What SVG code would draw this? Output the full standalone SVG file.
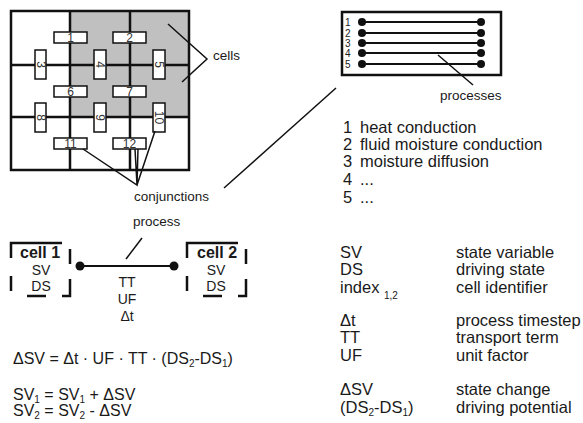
<svg xmlns="http://www.w3.org/2000/svg" width="583" height="423" viewBox="0 0 583 423">
<style>
text{font-family:"Liberation Sans",Arial,sans-serif;fill:#1a1a1a}
.num{font-size:12px;fill:#333;text-anchor:middle;dominant-baseline:central}
.lbl{font-size:13.5px}
.body{font-size:16.5px}
.frm{font-size:16px}
.sm{font-size:14px;text-anchor:middle}
.bold{font-size:16px;font-weight:bold}
.sub{font-size:10px}
.pn{font-size:10px}
.grid{fill:none;stroke:#111;stroke-width:2.5}
.cj{fill:#fff;stroke:#111;stroke-width:1.5}
.ln{fill:none;stroke:#111;stroke-width:1.5}
.pl{fill:none;stroke:#111;stroke-width:2.2}
.dash{fill:none;stroke:#111;stroke-width:2.5}
.dot{fill:#111}
</style>

<g id="grid">
<rect x="70" y="11" width="119" height="106" fill="#c0c0c0"/>
<rect class="grid" x="11" y="11" width="178" height="159"/>
<path class="grid" d="M70,11V170M130,11V170M11,65H189M11,117H189"/>
</g>

<g id="conjunction-boxes">
<g id="c1"><rect class="cj" x="54" y="32" width="33" height="11"/><text class="num" x="70.5" y="38">1</text></g>
<g id="c2"><rect class="cj" x="113" y="32" width="33" height="11"/><text class="num" x="129.5" y="38">2</text></g>
<g id="c6"><rect class="cj" x="54" y="86" width="33" height="11"/><text class="num" x="70.5" y="92">6</text></g>
<g id="c7"><rect class="cj" x="113" y="86" width="33" height="11"/><text class="num" x="129.5" y="92">7</text></g>
<g id="c11"><rect class="cj" x="54" y="138" width="33" height="11"/><text class="num" x="70.5" y="144">11</text></g>
<g id="c12"><rect class="cj" x="113" y="138" width="33" height="11"/><text class="num" x="129.5" y="144">12</text></g>
<g id="c3"><rect class="cj" x="35" y="50" width="11" height="29"/><text class="num" transform="translate(40.5,64.5) rotate(90)">3</text></g>
<g id="c4"><rect class="cj" x="94" y="50" width="12" height="29"/><text class="num" transform="translate(100,64.5) rotate(90)">4</text></g>
<g id="c5"><rect class="cj" x="153" y="50" width="12" height="29"/><text class="num" transform="translate(159,64.5) rotate(90)">5</text></g>
<g id="c8"><rect class="cj" x="35" y="103" width="11" height="29"/><text class="num" transform="translate(40.5,117.5) rotate(90)">8</text></g>
<g id="c9"><rect class="cj" x="94" y="103" width="12" height="29"/><text class="num" transform="translate(100,117.5) rotate(90)">9</text></g>
<g id="c10"><rect class="cj" x="153" y="103" width="12" height="29"/><text class="num" transform="translate(159,117.5) rotate(90)">10</text></g>
</g>

<g id="labels">
<text class="lbl" x="213" y="60">cells</text>
<text class="lbl" x="134" y="201">conjunctions</text>
<text class="lbl" x="440" y="100">processes</text>
<text class="lbl" x="133" y="226">process</text>
</g>

<g id="process-box">
<rect class="grid" x="342" y="12" width="159" height="63"/>
<path class="pl" d="M362,22H481M362,33H481M362,43H481M362,53H481M362,64H481"/>
<g class="dot">
<circle cx="362" cy="22" r="4"/><circle cx="481" cy="22" r="4"/>
<circle cx="362" cy="33" r="4"/><circle cx="481" cy="33" r="4"/>
<circle cx="362" cy="43" r="4"/><circle cx="481" cy="43" r="4"/>
<circle cx="362" cy="53" r="4"/><circle cx="481" cy="53" r="4"/>
<circle cx="362" cy="64" r="4"/><circle cx="481" cy="64" r="4"/>
</g>
<text class="pn" x="345" y="25.5">1</text><text class="pn" x="345" y="36.5">2</text><text class="pn" x="345" y="46.5">3</text><text class="pn" x="345" y="56.5">4</text><text class="pn" x="345" y="67.5">5</text>
</g>

<g id="process-list" class="body">
<text x="343" y="133">1</text><text x="360" y="133">heat conduction</text>
<text x="343" y="150">2</text><text x="360" y="150">fluid moisture conduction</text>
<text x="343" y="167">3</text><text x="360" y="167">moisture diffusion</text>
<text x="343" y="185">4</text><text x="360" y="185">...</text>
<text x="343" y="203">5</text><text x="360" y="203">...</text>
</g>

<g id="cell1">
<path class="dash" d="M11,258V243H62M70,249V264M70,279V296H62M46,296H27M11,291V276"/>
<text class="bold" x="20" y="258">cell 1</text>
<text class="sm" x="41" y="275">SV</text>
<text class="sm" x="41" y="291">DS</text>
</g>

<g id="cell2">
<path class="dash" d="M187,258V243H238M246,249V264M246,279V296H238M222,296H203M187,291V276"/>
<text class="bold" x="197" y="258">cell 2</text>
<text class="sm" x="216" y="275">SV</text>
<text class="sm" x="216" y="291">DS</text>
</g>

<g id="process-terms">
<text class="sm" x="127" y="287">TT</text>
<text class="sm" x="127" y="304">UF</text>
<text class="sm" x="127" y="321">Δt</text>
</g>

<g id="connectors">
<path class="ln" d="M168,24L207,59L182,82"/>
<path class="ln" d="M83,149L137,185L135,149M137,185L138,149M137,185L155,131"/>
<path class="ln" d="M224,188L336,88"/>
<path class="ln" d="M438,55L473,85"/>
<path class="ln" d="M126,259L142,238"/>
<path class="pl" d="M80,266H174"/>
<circle class="dot" cx="80" cy="266" r="4.5"/>
<circle class="dot" cx="174" cy="266" r="4.5"/>
</g>

<g id="formulas" class="frm">
<text x="13" y="364">ΔSV = Δt · UF · TT · (DS<tspan class="sub" dy="3">2</tspan><tspan dy="-3">-DS</tspan><tspan class="sub" dy="3">1</tspan><tspan dy="-3">)</tspan></text>
<text x="13" y="400">SV<tspan class="sub" dy="3">1</tspan><tspan dy="-3"> = SV</tspan><tspan class="sub" dy="3">1</tspan><tspan dy="-3"> + ΔSV</tspan></text>
<text x="13" y="416">SV<tspan class="sub" dy="3">2</tspan><tspan dy="-3"> = SV</tspan><tspan class="sub" dy="3">2</tspan><tspan dy="-3"> - ΔSV</tspan></text>
</g>

<g id="legend" class="body">
<text x="340" y="258">SV</text><text x="456" y="258">state variable</text>
<text x="340" y="275">DS</text><text x="456" y="275">driving state</text>
<text x="340" y="293">index <tspan class="sub" dy="6">1,2</tspan></text><text x="456" y="293">cell identifier</text>
<text x="340" y="326">Δt</text><text x="456" y="326">process timestep</text>
<text x="340" y="343">TT</text><text x="456" y="343">transport term</text>
<text x="340" y="361">UF</text><text x="456" y="361">unit factor</text>
<text x="340" y="395">ΔSV</text><text x="456" y="395">state change</text>
<text x="340" y="413">(DS<tspan class="sub" dy="3">2</tspan><tspan dy="-3">-DS</tspan><tspan class="sub" dy="3">1</tspan><tspan dy="-3">)</tspan></text><text x="456" y="413">driving potential</text>
</g>
</svg>
